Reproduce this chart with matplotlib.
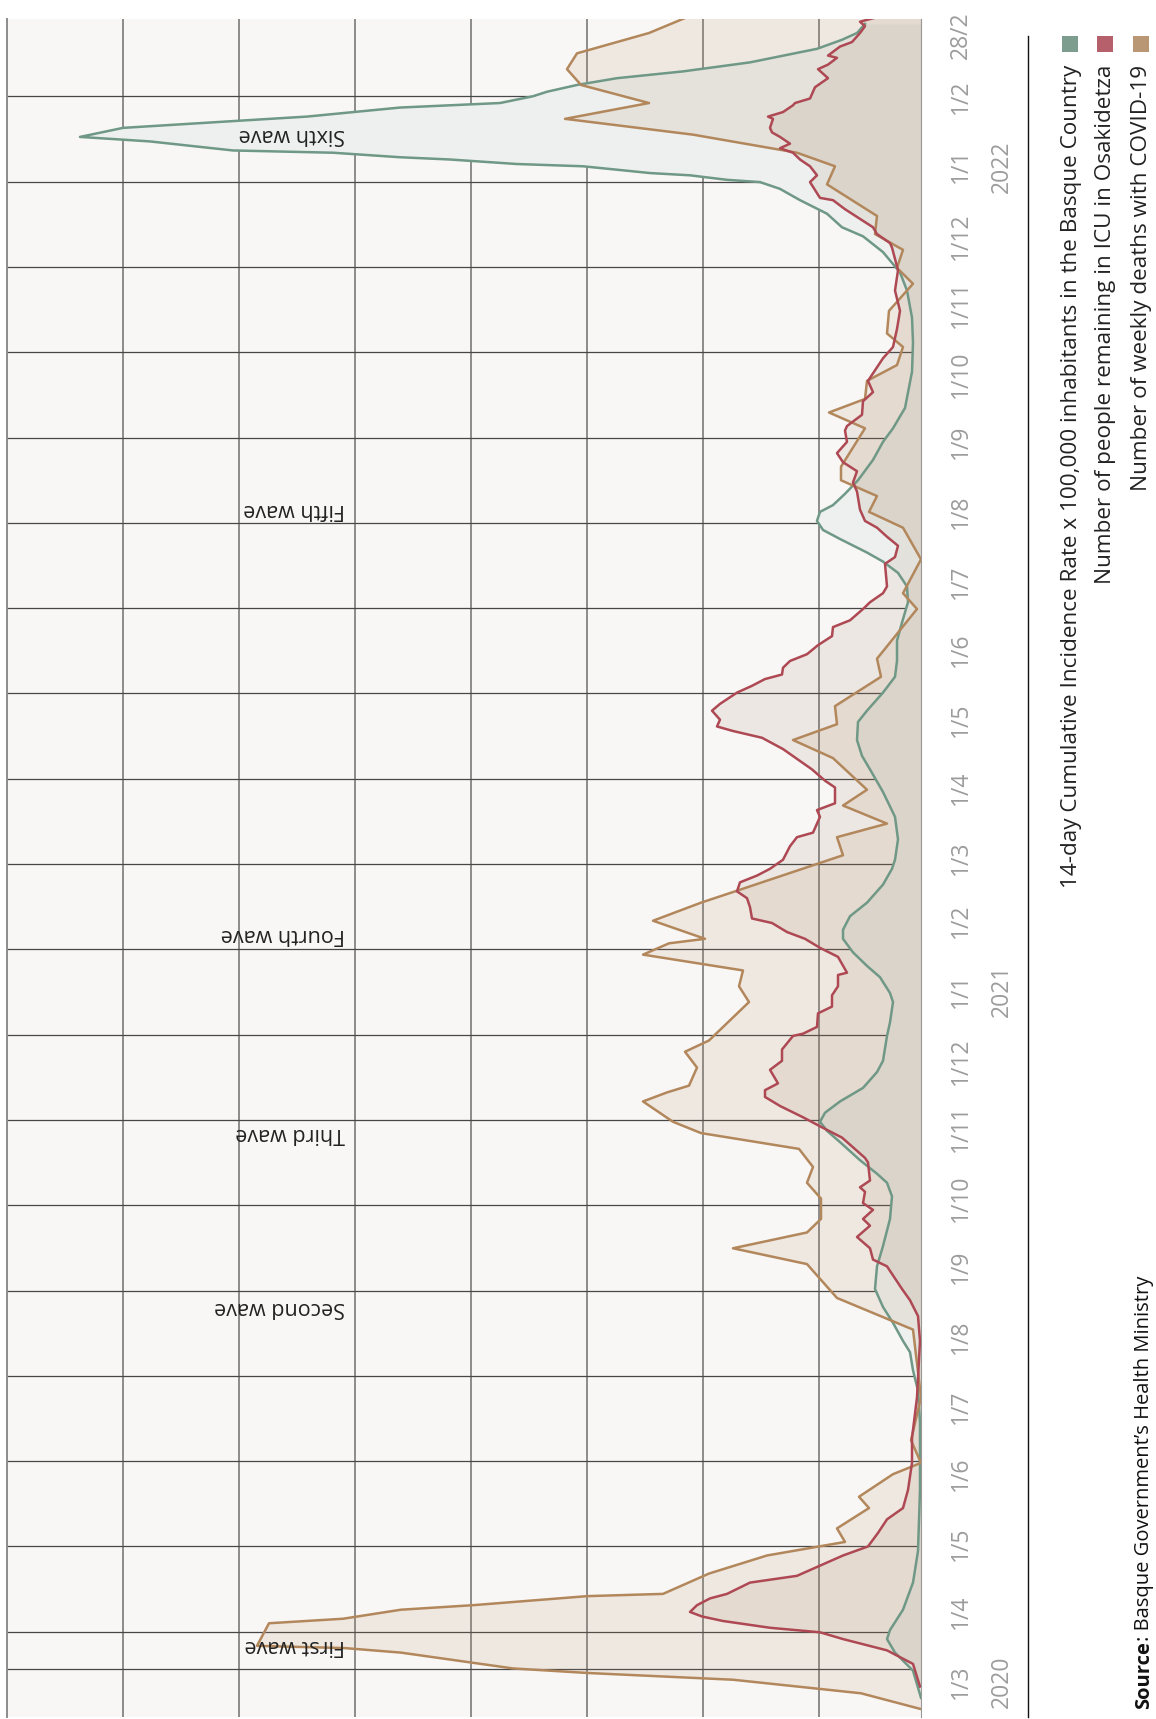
import matplotlib
matplotlib.use('Agg')
import matplotlib.pyplot as plt
import matplotlib.dates as mdates
import pandas as pd
from matplotlib.patches import Rectangle
from matplotlib.lines import Line2D

plt.rcParams['font.family'] = ['Open Sans', 'DejaVu Sans']

# days counted from 1 March 2020
START = pd.Timestamp('2020-03-01')

# 14-day cumulative incidence x 100,000
ci_day = [-7, 5, 13, 19, 23, 32, 44, 58, 85, 115, 129, 138, 146, 151, 159, 166, 174, 184, 193, 205,
          215, 221, 225, 231, 239, 244, 248, 252, 257, 263, 270, 275, 286, 292, 301, 305, 312, 317, 323, 329,
          333, 339, 345, 353, 360, 364, 373, 383, 394, 404, 410, 417, 425, 430, 438, 445, 452, 461, 469, 478,
          485, 491, 496, 500, 506, 510, 514, 518, 521, 526, 532, 541, 549, 555, 564, 580, 593, 604, 616, 624,
          633, 640, 644, 650, 656, 661, 664, 665, 667, 668, 671, 672, 674, 675, 677, 678, 682, 684, 688, 691,
          693, 697, 698, 699, 702, 704, 707, 710, 713, 717, 723, 727, 730, 734]
ci14 = [0, 40, 130, 170, 155, 90, 40, 15, 5, 5, 15, 40, 55, 90, 140, 190, 230, 220, 190, 155,
        145, 170, 220, 305, 405, 470, 505, 480, 405, 290, 220, 190, 170, 155, 140, 155, 205, 270, 340, 390,
        390, 355, 270, 190, 145, 130, 115, 130, 190, 255, 295, 320, 315, 270, 190, 130, 120, 120, 95, 65,
        70, 115, 190, 270, 405, 490, 520, 505, 440, 380, 315, 240, 190, 140, 80, 45, 40, 45, 70, 105,
        190, 290, 395, 470, 605, 705, 805, 970, 1155, 1355, 1690, 2020, 2355, 2605, 2940, 3440, 3855, 4205, 3990, 3440,
        3070, 2605, 2355, 2105, 1940, 1870, 1720, 1520, 1190, 855, 520, 395, 320, 280]

# people remaining in ICU
icu_day = [-2, 8, 14, 19, 22, 24, 27, 29, 31, 34, 37, 39, 44, 47, 56, 60, 66, 72, 77, 85,
           97, 108, 126, 151, 162, 169, 174, 184, 187, 192, 197, 202, 205, 209, 212, 217, 219, 222, 230, 232,
           241, 246, 250, 255, 259, 262, 265, 271, 275, 280, 286, 287, 290, 296, 299, 304, 308, 313, 314, 321,
           325, 329, 332, 336, 338, 343, 347, 350, 354, 357, 360, 364, 370, 374, 376, 383, 386, 389, 396, 399,
           404, 413, 418, 421, 423, 426, 430, 433, 438, 441, 444, 446, 449, 452, 455, 459, 463, 467, 470, 475,
           478, 482, 485, 495, 498, 503, 507, 511, 514, 519, 527, 531, 536, 540, 544, 549, 554, 556, 561, 567,
           571, 576, 586, 591, 599, 607, 616, 625, 635, 637, 641, 644, 652, 656, 657, 664, 667, 671, 674, 677,
           679, 681, 684, 686, 688, 692, 693, 695, 698, 699, 701, 706, 710, 714, 716, 719, 720, 724, 726, 730,
           733, 735, 737]
icu = [1, 8, 34, 78, 101, 151, 198, 219, 231, 224, 211, 194, 171, 124, 78, 53, 43, 34, 18, 13,
       9, 9, 4, 1, 3, 11, 19, 34, 48, 51, 64, 51, 58, 48, 58, 56, 61, 51, 53, 56,
       79, 101, 118, 141, 156, 156, 143, 151, 139, 139, 128, 118, 104, 103, 89, 89, 83, 83, 74, 83,
       101, 116, 134, 149, 169, 171, 174, 184, 181, 164, 151, 138, 131, 124, 108, 101, 104, 86, 86, 96,
       109, 138, 159, 188, 204, 201, 209, 201, 184, 169, 156, 139, 138, 131, 114, 103, 89, 88, 71, 58,
       51, 38, 34, 36, 26, 23, 34, 44, 56, 61, 64, 68, 64, 78, 84, 74, 76, 74, 59, 58,
       48, 53, 38, 28, 24, 21, 26, 23, 29, 31, 44, 48, 76, 88, 101, 111, 104, 111, 121, 128,
       141, 131, 141, 149, 151, 148, 153, 138, 128, 126, 111, 106, 93, 103, 93, 84, 93, 81, 69, 61,
       56, 61, 44]

# weekly deaths with COVID-19
death_day = [-12, -5, 1, 4, 6, 10, 13, 15, 16, 26, 28, 32, 34, 38, 39, 48, 56, 62, 68, 77,
             82, 92, 97, 107, 126, 156, 170, 185, 192, 199, 205, 214, 221, 228, 236, 243, 248, 257, 261, 264,
             272, 279, 284, 301, 308, 315, 322, 327, 329, 337, 345, 350, 366, 374, 380, 388, 395, 409, 417, 424,
             432, 445, 453, 475, 482, 497, 511, 518, 525, 532, 538, 555, 562, 568, 576, 583, 591, 597, 607, 619,
             626, 634, 641, 649, 663, 671, 677, 685, 692, 699, 707, 714, 721, 726, 730, 737]
deaths = [0, 30, 94, 167, 204, 236, 260, 288, 332, 326, 289, 260, 224, 167, 129, 106, 77, 38, 42, 26,
          31, 14, 0, 5, 0, 4, 42, 57, 94, 57, 50, 50, 57, 54, 61, 110, 124, 139, 127, 116,
          112, 118, 106, 86, 91, 89, 139, 126, 108, 134, 110, 93, 39, 42, 17, 39, 27, 44, 64, 42,
          43, 20, 22, 2, 9, 0, 9, 26, 22, 40, 40, 28, 46, 28, 27, 12, 9, 17, 16, 4,
          12, 9, 23, 22, 47, 43, 62, 114, 178, 136, 170, 177, 172, 152, 136, 117]

# each series has its own scale on the chart
CI_SCALE, ICU_SCALE, DEATH_SCALE = 0.2, 1.0, 2.0

tick_dates = pd.date_range('2020-03-01', '2022-02-01', freq='MS').tolist() + [pd.Timestamp('2022-02-28')]
tick_labels = [f'{d.day}/{d.month}' for d in tick_dates]
years = [('2020', '2020-03-01'), ('2021', '2021-01-01'), ('2022', '2022-01-01')]

waves = [('First wave', 16), ('Second wave', 166), ('Third wave', 243),
         ('Fourth wave', 331), ('Fifth wave', 519), ('Sixth wave', 685)]

legend_items = [('14-day Cumulative Incidence Rate x 100,000 inhabitants in the Basque Country', '#7d9d8e'),
                ('Number of people remaining in ICU in Osakidetza', '#b5606a'),
                ('Number of weekly deaths with COVID-19', '#b99674')]

GREEN, RED, BROWN = '#6f9886', '#ae4954', '#b3875c'
VGRID, HGRID = '#8c8c8c', '#474747'


def to_num(days):
    return mdates.date2num(START + pd.to_timedelta(days, unit='D'))


W, H = 1156, 1719
fig = plt.figure(figsize=(W / 100, H / 100), dpi=100)
ax = fig.add_axes([7 / W, 2 / H, 914 / W, 1698 / H])
ax.set_facecolor('#f8f7f5')

y0, y1 = to_num(-15.5), to_num(736.2)
ax.set_ylim(y0, y1)
ax.set_xlim(914, 0)

# decorative grid
for v in range(102, 914, 116):
    ax.axvline(v, color=VGRID, lw=1.4, zorder=0.5)
for k in range(1, 20):
    ax.axhline(y0 + k * 85.3 / 1698 * (y1 - y0), color=HGRID, lw=0.9, zorder=0.5)
ax.axhline(y0 + 48 / 1698 * (y1 - y0), color=HGRID, lw=0.9, zorder=0.5)

cy = to_num(ci_day)
iy = to_num(icu_day)
dy = to_num(death_day)
cx = [c * CI_SCALE for c in ci14]
ix = [c * ICU_SCALE for c in icu]
dx = [c * DEATH_SCALE for c in deaths]

ax.fill_betweenx(cy, 0, cx, color='#edf0ee', lw=0, zorder=1)
ax.fill_betweenx(dy, 0, dx, color='#b58a5e', alpha=0.13, lw=0, zorder=2)
ax.fill_betweenx(iy, 0, ix, color='#8c6a4c', alpha=0.11, lw=0, zorder=3)
ax.plot(cx, cy, color=GREEN, lw=1.8, zorder=4)
ax.plot(dx, dy, color=BROWN, lw=1.8, zorder=5)
ax.plot(ix, iy, color=RED, lw=1.8, zorder=6)

for name, day in waves:
    ax.text(576, to_num(day), name, rotation=180, ha='right', va='center',
            fontsize=15.5, color='#222222', zorder=7)

for side in ['top', 'bottom']:
    ax.spines[side].set_visible(False)
ax.spines['left'].set_color(VGRID)
ax.spines['left'].set_linewidth(1.4)
ax.spines['right'].set_color('#9a9a9a')
ax.spines['left'].set_zorder(0.5)

ax.set_xticks([])
ax.yaxis.tick_right()
ax.set_yticks(to_num([(d - START).days for d in tick_dates]))
ax.set_yticklabels(tick_labels)
ax.tick_params(axis='y', length=0, pad=20, labelsize=16.5, labelcolor='#9c9c9c')
for lbl in ax.get_yticklabels():
    lbl.set_rotation(90)
    lbl.set_va('center')
    lbl.set_ha('left')

for yr, d in years:
    ax.text((1002 - 7) / 914, mdates.date2num(pd.Timestamp(d)), yr, transform=ax.get_yaxis_transform(),
            rotation=90, ha='center', va='center', fontsize=16.5, color='#9c9c9c')

# legend
fig.add_artist(Line2D([1028 / W, 1028 / W], [1 - 36 / H, 1 - 1717 / H], color='#111111', lw=1.0))
for i, (txt, col) in enumerate(legend_items):
    xc = [1070, 1104.5, 1140.5][i]
    fig.add_artist(Rectangle(((xc - 8) / W, 1 - 52 / H), 16 / W, 16 / H, color=col, lw=0))
    fig.text([1072, 1106, 1141][i] / W, 1 - 65 / H, txt, rotation=90, ha='center', va='top',
             fontsize=16.2, color='#222222')

# source
src1 = fig.text(1149 / W, 1 - 1709 / H, 'Source', rotation=90, rotation_mode='anchor',
                ha='left', va='baseline', fontsize=14.5, fontweight='bold', color='#111111')
fig.canvas.draw()
bb = src1.get_window_extent()
fig.text(1149 / W, bb.y1 / H, ': Basque Government\u2019s Health Ministry', rotation=90,
         rotation_mode='anchor', ha='left', va='baseline', fontsize=14.5, color='#111111')

fig.savefig('out.png', dpi=100, facecolor='white')
